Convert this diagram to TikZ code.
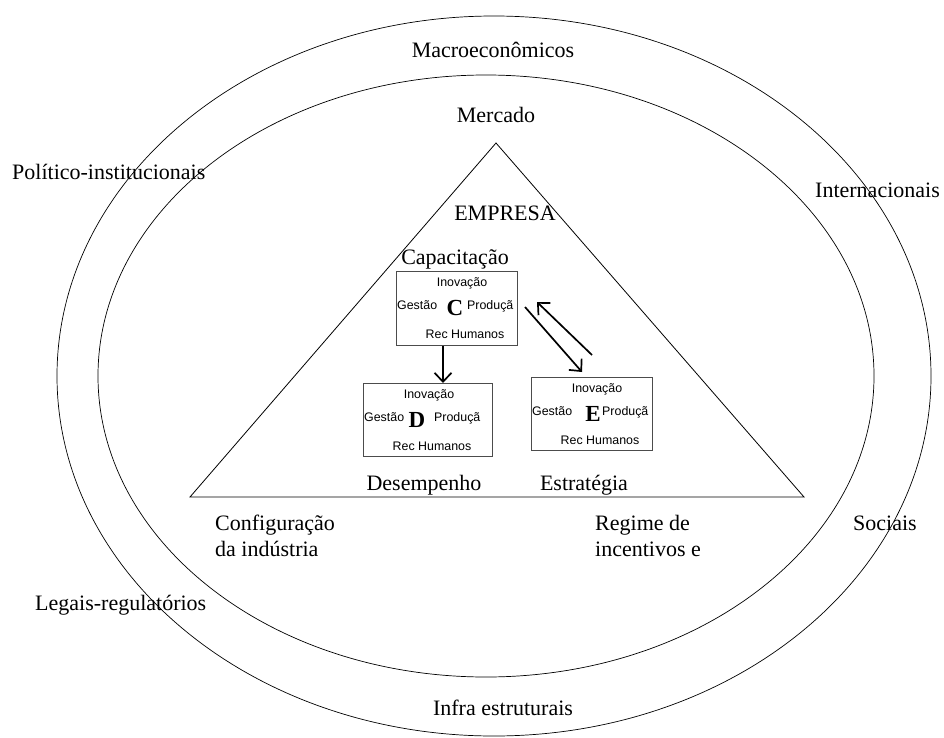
\documentclass[tikz,border=0pt]{standalone}
\usepackage{fontspec}
\setmainfont{Liberation Serif}
\newfontfamily\boxfont{Liberation Sans}
\usetikzlibrary{arrows.meta}
\newcommand\capbox[5]{% name, north west corner, width, height, letter (letter x offset in \lx)
  \node[cbox, minimum width=#3, minimum height=#4] (#1) at (#2) {};
  \node[sm, anchor=base] (#1i) at ([shift={(66,15)}]#1.north west) {Inovação};
  \node[sm, anchor=base west] (#1g) at ([shift={(1,38)}]#1.north west) {Gestão};
  \node[big, anchor=base] (#1l) at ([shift={(\lx,44)}]#1.north west) {#5};
  \node[sm, anchor=base west] (#1p) at ([shift={(71,38)}]#1.north west) {Produçã};
  \node[sm, anchor=base] (#1r) at ([shift={(69,67)}]#1.north west) {Rec Humanos};
}
\begin{document}
\begin{tikzpicture}[x=1bp,y=-1bp,
  lbl/.style={font=\fontsize{22bp}{26bp}\selectfont, inner sep=0pt},
  sm/.style={font=\boxfont\fontsize{12.4bp}{14bp}\selectfont, inner sep=0pt},
  big/.style={font=\bfseries\fontsize{23bp}{24bp}\selectfont, inner sep=0pt},
  cbox/.style={draw=black!70, line width=0.9bp, inner sep=0pt, anchor=north west},
  arr/.style={line width=1.7bp, -{Straight Barb[length=9bp,width=17bp]}},
  ring/.style={line width=0.7bp},
  tri/.style={line width=0.8bp}
]
\useasboundingbox (0,0) rectangle (944,738);
% rings
\draw[ring] (494,376) ellipse [x radius=437bp, y radius=360bp];
\draw[ring] (486,376) ellipse [x radius=388bp, y radius=301bp];
% triangle
\coordinate (apex) at (496,143);
\coordinate (bl) at (190,497);
\coordinate (br) at (804,497);
\draw[tri] (apex) -- (bl) -- (br) -- cycle;
% ring labels
\node[lbl] (macro) at (493,50) {Macroeconômicos};
\node[lbl] (merc) at (496,115) {Mercado};
\node[lbl, anchor=base west] (poli) at (12,179) {Político-institucionais};
\node[lbl, anchor=base west] (inter) at (815,197) {Internacionais};
\node[lbl, anchor=base west] (soc) at (853,530) {Sociais};
\node[lbl, anchor=base west] (legais) at (35,610) {Legais-regulatórios};
\node[lbl, anchor=base] (infra) at (503,715) {Infra estruturais};
\node[lbl, anchor=base west, align=left] (conf) at (215,556) {Configuração\\da indústria};
\node[lbl, anchor=base west, align=left] (reg) at (595,556) {Regime de\\incentivos e};
% triangle labels
\node[lbl, anchor=base] (emp) at (505,220) {EMPRESA};
\node[lbl, anchor=base] (capac) at (455,264) {Capacitação};
\node[lbl, anchor=base] (desemp) at (424,490) {Desempenho};
\node[lbl, anchor=base] (estr) at (584,490) {Estratégia};
% boxes
\def\lx{59}\capbox{C}{396,271}{121bp}{74bp}{C}
\def\lx{54}\capbox{D}{363,383}{129bp}{73bp}{D}
\def\lx{62}\capbox{E}{531,377}{121bp}{73bp}{E}
% arrows
\draw[arr] (C.south -| 443,0) -- (D.north -| 443,0);
\coordinate (a1s) at (525,307);
\coordinate (a1e) at (582,372);
\coordinate (a2s) at (592,355);
\coordinate (a2e) at (537,302);
\draw[arr] (a1s) -- (a1e);
\draw[arr] (a2s) -- (a2e);
\end{tikzpicture}
\end{document}
